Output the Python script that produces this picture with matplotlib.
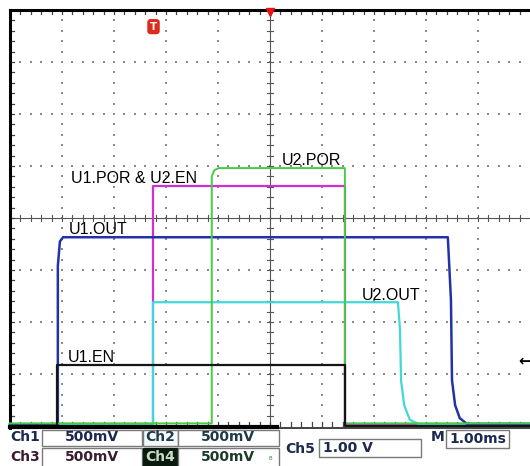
import matplotlib
matplotlib.use('Agg')
import matplotlib.pyplot as plt
from matplotlib.patches import Rectangle

# ---------------- data (time in ms, 1.00 ms/div; level in divisions) ----------------
u1_en_t = [0.0, 0.90, 0.90, 6.44, 6.44, 10.0]
u1_en_v = [0.0, 0.0, 1.18, 1.18, 0.0, 0.0]

u1_out_t = [0.0, 0.92, 0.92, 0.96, 1.02, 8.42, 8.48, 8.50, 8.56, 8.65, 8.79, 10.0]
u1_out_v = [0.03, 0.03, 3.08, 3.55, 3.63, 3.63, 2.42, 0.88, 0.40, 0.15, 0.04, 0.04]

u1_por_t = [0.0, 2.75, 2.75, 6.44, 6.44, 10.0]
u1_por_v = [0.03, 0.03, 4.62, 4.62, 0.03, 0.03]

u2_por_t = [0.0, 3.88, 3.88, 3.93, 4.01, 6.44, 6.44, 10.0]
u2_por_v = [0.05, 0.05, 4.80, 4.92, 4.96, 4.96, 0.05, 0.05]

u2_out_t = [0.0, 2.75, 2.75, 7.46, 7.50, 7.52, 7.58, 7.69, 7.85, 10.0]
u2_out_v = [0.03, 0.03, 2.38, 2.38, 1.85, 0.88, 0.40, 0.12, 0.04, 0.04]

trace_labels = ["U1.POR & U2.EN", "U2.POR", "U1.OUT", "U2.OUT", "U1.EN"]
label_pos = [(1.17, 4.67), (5.23, 5.02), (1.13, 3.69), (6.77, 2.42), (1.12, 1.23)]

ch_names = ["Ch1", "Ch2", "Ch3", "Ch4"]
ch_scales = ["500mV", "500mV", "500mV", "500mV"]
ch5_name = "Ch5"
ch5_scale = "1.00 V"
time_scale = "1.00ms"
trigger_time = 2.76
trigger_level = 1.25

W, H = 530, 466
fig = plt.figure(figsize=(W / 100, H / 100), dpi=100)
fig.patch.set_facecolor('white')

# panel axes in pixel coordinates
pax = fig.add_axes([0, 0, 1, 1])
pax.set_xlim(0, W)
pax.set_ylim(H, 0)
pax.axis('off')

# main scope axes
ax = fig.add_axes([10 / W, 40 / H, 520 / W, 416 / H])
ax.set_xlim(0, 10)
ax.set_ylim(0, 8)
ax.axis('off')
ax.patch.set_alpha(0)

grid_c = '#8a8a8a'
# dotted graticule
for gx in range(1, 10):
    if gx == 5:
        continue
    ys = [k * 0.2 for k in range(1, 40)]
    ax.scatter([gx] * len(ys), ys, s=1.8, marker='s', color=grid_c, linewidths=0, zorder=1)
for gy in range(1, 8):
    if gy == 4:
        continue
    xs = [k * 0.2 for k in range(1, 50)]
    ax.scatter(xs, [gy] * len(xs), s=1.8, marker='s', color=grid_c, linewidths=0, zorder=1)

# center cross with ticks
ax.plot([0, 10], [4, 4], color='#555555', lw=0.8, zorder=1)
ax.plot([5, 5], [0, 8], color='#555555', lw=0.8, zorder=1)
tk = 0.06
for k in range(1, 50):
    x = k * 0.2
    ax.plot([x, x], [4 - tk, 4 + tk], color='#555555', lw=0.8, zorder=1)
for k in range(1, 40):
    y = k * 0.2
    ax.plot([5 - tk, 5 + tk], [y, y], color='#555555', lw=0.8, zorder=1)

# border ticks
bt = 0.08
for k in range(1, 50):
    x = k * 0.2
    ax.plot([x, x], [8, 8 - bt], color='#444444', lw=0.9, zorder=1, clip_on=False)
    ax.plot([x, x], [0, bt], color='#444444', lw=0.9, zorder=1, clip_on=False)
for k in range(1, 40):
    y = k * 0.2
    ax.plot([0, bt], [y, y], color='#444444', lw=0.9, zorder=1, clip_on=False)

# borders
ax.plot([0, 10], [8, 8], color='black', lw=2.2, zorder=2, clip_on=False)
ax.plot([0, 0], [-0.04, 8], color='black', lw=2.2, zorder=2, clip_on=False)
ax.plot([0, 5.13], [-0.01, -0.01], color='black', lw=3.0, zorder=7.5, clip_on=False)
ax.plot([5.13, 10], [-0.03, -0.03], color='#222222', lw=1.2, zorder=2, clip_on=False)

# traces
ax.plot(u1_por_t, u1_por_v, color='#d030d0', lw=1.6, zorder=3, clip_on=False)
ax.plot(u2_out_t, u2_out_v, color='#40d8d8', lw=1.6, zorder=4, clip_on=False)
ax.plot(u1_out_t, u1_out_v, color='#2233aa', lw=1.8, zorder=6, clip_on=False)
ax.plot(u2_por_t, u2_por_v, color='#44cc44', lw=1.4, zorder=6.5, clip_on=False)
ax.plot(u1_en_t, u1_en_v, color='#151515', lw=1.6, zorder=7, clip_on=False)

for lab, (lx, ly) in zip(trace_labels, label_pos):
    ax.text(lx, ly, lab, fontsize=11.5, family='Liberation Sans', color='black',
            ha='left', va='baseline', zorder=8)

# trigger marker (T) and trigger position triangle
ax.text(trigger_time, 7.68, 'T', fontsize=7.5, weight='bold', color='white', ha='center',
        va='center', family='DejaVu Sans', zorder=9,
        bbox=dict(boxstyle='round,pad=0.25,rounding_size=0.3', fc='#dd2a1a', ec='none'))
ax.plot([5.0], [7.97], marker='v', markersize=6, color='#ee1111', clip_on=False, zorder=9)
# trigger level arrow
ax.text(9.78, trigger_level, '\u2190', fontsize=11, weight='bold', color='black',
        ha='left', va='center', zorder=9, clip_on=False)

# ---------------- info panel ----------------
navy = '#1c2850'
box_ec = '#7a7a7a'


def box(x0, y0, x1, y1, fc='white', ec=box_ec, lw=1.0):
    pax.add_patch(Rectangle((x0, y0), x1 - x0, y1 - y0, fc=fc, ec=ec, lw=lw))


# row boxes
box(42, 430, 142, 446)
box(42, 448, 142, 468)
box(143, 430, 178, 446, fc='#f4f8fa')
box(143, 448, 178, 468, fc='#0b1a0e', ec='#0b1a0e')
box(178, 430, 279, 446)
box(178, 448, 279, 468)

lab_colors = ['#1c2850', '#1c3a48', '#3a1c30', '#c8dcc8']
val_colors = ['#1c2850', '#1c3a48', '#3a1c30', '#1c3a2a']
lab_x = [10, 145, 10, 145]
val_x = [92, 228, 92, 228]
row_y = [437, 437, 457, 457]
for i in range(4):
    pax.text(lab_x[i], row_y[i], ch_names[i], fontsize=10, weight='bold',
             color=lab_colors[i], ha='left', va='center', family='DejaVu Sans')
    pax.text(val_x[i], row_y[i], ch_scales[i], fontsize=10, weight='bold',
             color=val_colors[i], ha='center', va='center', family='DejaVu Sans')
pax.text(270, 458, 'B', fontsize=4, color='#3a8a3a', ha='center', va='center')

pax.text(285, 449, ch5_name, fontsize=10, weight='bold', color=navy, ha='left',
         va='center', family='DejaVu Sans')
box(319, 439, 421, 457)
pax.text(323, 448, ch5_scale, fontsize=10, weight='bold', color=navy, ha='left',
         va='center', family='DejaVu Sans')

pax.text(431, 437, 'M', fontsize=10, weight='bold', color=navy, ha='left',
         va='center', family='DejaVu Sans')
box(446, 430, 509, 448)
pax.text(449, 439, time_scale, fontsize=10, weight='bold', color=navy, ha='left',
         va='center', family='DejaVu Sans')

fig.savefig('out.png', dpi=100, facecolor='white')
